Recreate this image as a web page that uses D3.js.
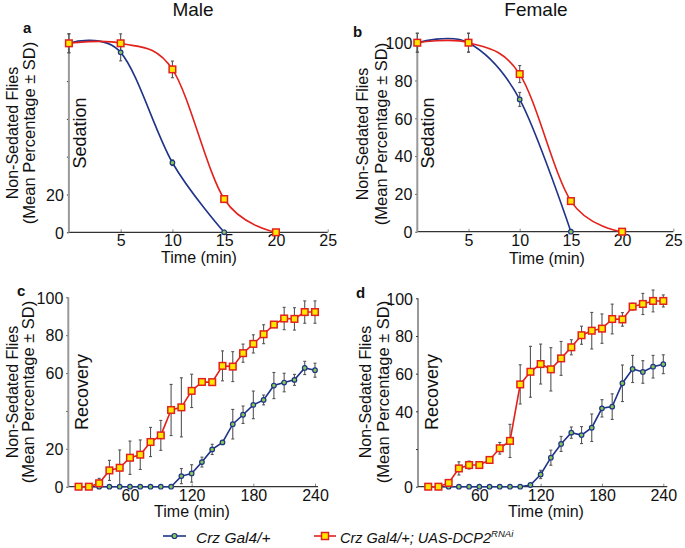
<!DOCTYPE html>
<html><head><meta charset="utf-8">
<script src="https://cdn.jsdelivr.net/npm/d3@7"></script>
<style>body{margin:0;background:#fff} text{font-family:"Liberation Sans",Arial,sans-serif;fill:#111}</style>
</head><body><svg id="chart" width="685" height="548"></svg>
<script>
// ---------- data ----------
const sedTimes = [0, 5, 10, 15, 20];
const maleSedCtrl = [100, 95.2, 36.8, 0];
const maleSedCtrlSD = [5, 4.5, 1.5, 0];
const maleSedRnai = [100, 100, 86.2, 17.6, 0];
const maleSedRnaiSD = [5, 5, 4.4, 0, 0];
const femaleSedCtrl = [100, 100, 70, 0];
const femaleSedCtrlSD = [5, 5, 3.7, 0];
const femaleSedRnai = [100, 100, 83.4, 16.2, 0];
const femaleSedRnaiSD = [5, 5, 4.5, 0, 0];

const recTimes = [10, 20, 30, 40, 50, 60, 70, 80, 90, 100, 110, 120, 130, 140, 150, 160, 170, 180, 190, 200, 210, 220, 230, 240];
const maleRecCtrl   = [0, 0, 0, 0, 0, 0, 0, 0, 0, 0, 5.6, 7, 13, 19.7, 23.4, 33, 38, 43.2, 45.8, 53.4, 55, 56.4, 62.7, 61.5];
const maleRecCtrlSD = [0, 0, 0, 0, 0, 0, 0, 0, 0, 0, 4, 4.6, 2.6, 2.7, 1, 7.8, 4.6, 7.3, 2.6, 6.9, 4.9, 2.9, 3.5, 3.7];
const maleRecRnai   = [0, 0, 1.8, 8.6, 10, 15.3, 16.9, 23.6, 27.1, 40.5, 41.9, 50.6, 55.3, 55.2, 63.8, 63.4, 70.5, 75.4, 80.5, 85.6, 88.8, 88.6, 92.2, 92.2];
const maleRecRnaiSD = [0, 0, 2.6, 5.3, 9.4, 8.8, 7.8, 7.7, 7.9, 13.5, 15.6, 8.8, 0.8, 0.8, 7.9, 7.9, 4.8, 4.8, 5, 1, 5.9, 5.9, 5.9, 5.9];
const femaleRecCtrl   = [0, 0, 0, 0, 0, 0, 0, 0, 0, 0, 0.9, 6.5, 15.4, 22.7, 28.7, 27.4, 31.3, 41.6, 42.5, 54.9, 62.5, 60.9, 63.7, 65];
const femaleRecCtrlSD = [0, 0, 0, 0, 0, 0, 0, 0, 0, 0, 0.5, 2.2, 4, 4, 3, 4.5, 7.3, 4.6, 6.8, 9.7, 7.2, 6, 6, 5];
const femaleRecRnai   = [0, 0, 2, 9.7, 11.5, 11.5, 14.2, 20.4, 24.3, 54.3, 61, 65.1, 62.3, 68.1, 74, 80.4, 82.8, 83.9, 89, 88.8, 95.6, 97, 98.6, 98.6];
const femaleRecRnaiSD = [0, 0, 1, 3.5, 2.1, 1.3, 1.3, 3.1, 8.8, 10.4, 13.5, 10.6, 11.5, 9, 4, 4.8, 9.7, 7.8, 7.9, 3.6, 1.8, 5.6, 5.8, 3.2];

const sedXTicks = [5, 10, 15, 20, 25];
const recXTicks = [60, 120, 180, 240];
const yTicks = [0, 20, 40, 60, 80, 100];
const aYLabels = [0, 20];
const bYLabels = [0, 20, 40, 60, 80, 100];
const cYLabels = [0, 20, 60, 80, 100];
const dYLabels = [0, 40, 60, 80, 100];

const seriesNames = ["Crz Gal4/+", "Crz Gal4/+; UAS-DCP2"];
const rnaiSup = "RNAi";

// ---------- style ----------
const BLUE = "#1f3388", RED = "#e3201b", YEL = "#ffe800", GRN = "#86c951";
const svg = d3.select("#chart");

const panels = [
  {letter: "a", lx: 23, ly: 33, title: "Male", tx: 193, x0: 68.9, x1: 327.7, yb: 232.3, yt: 43.3, xmax: 25,
   xticks: sedXTicks, ylab: aYLabels, yAxisCol: "#999", yAxisW: 2, smooth: true, side: "Sedation",
   times: sedTimes, ctrl: maleSedCtrl, ctrlSD: maleSedCtrlSD, rnai: maleSedRnai, rnaiSD: maleSedRnaiSD,
   ylx1: 12, ylx2: 29, ylc: 133, sideX: 80, sideY: 133, xLabY: 263, xLabX: 199, tickY: 246, xExt: 0},
  {letter: "b", lx: 353, ly: 37, title: "Female", tx: 536, x0: 417.3, x1: 673.3, yb: 231.7, yt: 42.7, xmax: 25,
   xticks: sedXTicks, ylab: bYLabels, yAxisCol: "#999", yAxisW: 2, smooth: true, side: "Sedation",
   times: sedTimes, ctrl: femaleSedCtrl, ctrlSD: femaleSedCtrlSD, rnai: femaleSedRnai, rnaiSD: femaleSedRnaiSD,
   ylx1: 362, ylx2: 381, ylc: 134, sideX: 428, sideY: 133, xLabY: 264, xLabX: 547, tickY: 246, xExt: 0},
  {letter: "c", lx: 17, ly: 296, title: null, x0: 68.3, x1: 315, yb: 486.7, yt: 297.3, xmax: 240,
   xticks: recXTicks, ylab: cYLabels, yAxisCol: "#999", yAxisW: 2, smooth: false, side: "Recovery",
   times: recTimes, ctrl: maleRecCtrl, ctrlSD: maleRecCtrlSD, rnai: maleRecRnai, rnaiSD: maleRecRnaiSD,
   ylx1: 12, ylx2: 28, ylc: 392, sideX: 82, sideY: 392, xLabY: 517, xLabX: 192, tickY: 500.5, xExt: 3},
  {letter: "d", lx: 356, ly: 298, title: null, x0: 418, x1: 663.3, yb: 486.7, yt: 298.3, xmax: 240,
   xticks: recXTicks, ylab: dYLabels, yAxisCol: "#333", yAxisW: 1, smooth: false, side: "Recovery",
   times: recTimes, ctrl: femaleRecCtrl, ctrlSD: femaleRecCtrlSD, rnai: femaleRecRnai, rnaiSD: femaleRecRnaiSD,
   ylx1: 365, ylx2: 383, ylc: 392, sideX: 432, sideY: 392, xLabY: 517, xLabX: 546, tickY: 500.5, xExt: 4}
];

panels.forEach(p => {
  const x = d3.scaleLinear().domain([0, p.xmax]).range([p.x0, p.x1]);
  const y = d3.scaleLinear().domain([0, 100]).range([p.yb, p.yt]);
  const g = svg.append("g");

  // x axis
  const xa = g.append("g").attr("transform", `translate(0,${p.yb})`)
    .call(d3.axisBottom(x).tickValues(p.xticks).tickSize(-3).tickPadding(6).tickFormat(d3.format("d")));
  xa.select(".domain").remove();
  xa.selectAll(".tick line").attr("stroke", "#888");
  xa.selectAll("text").attr("font-size", 16).attr("fill", "#111").attr("dy", null)
    .attr("y", p.tickY - p.yb);
  g.append("line").attr("x1", x(0)).attr("x2", x(p.xmax) + p.xExt).attr("y1", p.yb).attr("y2", p.yb)
    .attr("stroke", "#333").attr("stroke-width", 1.2);

  // y axis
  const ya = g.append("g").attr("transform", `translate(${x(0)},0)`)
    .call(d3.axisLeft(y).tickValues(yTicks).tickSize(2).tickPadding(3)
      .tickFormat(d => p.ylab.includes(d) ? d : ""));
  ya.select(".domain").remove();
  ya.selectAll(".tick line").attr("stroke", "#333");
  ya.selectAll("text").attr("font-size", 16).attr("fill", "#111").attr("dy", "0.36em");
  g.append("line").attr("x1", x(0)).attr("x2", x(0)).attr("y1", y(0)).attr("y2", y(100))
    .attr("stroke", p.yAxisCol).attr("stroke-width", p.yAxisW);

  // labels
  g.append("text").attr("x", p.lx).attr("y", p.ly).attr("font-size", 15).attr("font-weight", "bold").text(p.letter);
  if (p.title) g.append("text").attr("x", p.tx).attr("y", 16).attr("font-size", 19).attr("text-anchor", "middle").text(p.title);
  g.append("text").attr("transform", `translate(${p.ylx1},${p.ylc}) rotate(-90)`).attr("dy", "0.35em")
    .attr("text-anchor", "middle").attr("font-size", 16).text("Non-Sedated Flies");
  g.append("text").attr("transform", `translate(${p.ylx2},${p.ylc}) rotate(-90)`).attr("dy", "0.35em")
    .attr("text-anchor", "middle").attr("font-size", 16.5).text("(Mean Percentage \u00b1 SD)");
  g.append("text").attr("transform", `translate(${p.sideX},${p.sideY}) rotate(-90)`).attr("dy", "0.35em")
    .attr("text-anchor", "middle").attr("font-size", 18).text(p.side);
  g.append("text").attr("x", p.xLabX).attr("y", p.xLabY).attr("text-anchor", "middle").attr("font-size", 16).text("Time (min)");

  const ctrlPts = p.ctrl.map((v, i) => ({t: p.times[i], v, sd: p.ctrlSD[i]}));
  const rnaiPts = p.rnai.map((v, i) => ({t: p.times[i], v, sd: p.rnaiSD[i]}));

  // error bars
  [...rnaiPts, ...ctrlPts].filter(d => d.sd > 0).forEach(d => {
    const eg = g.append("g").attr("stroke", "#555").attr("stroke-width", 1.1);
    eg.append("line").attr("x1", x(d.t)).attr("x2", x(d.t)).attr("y1", y(d.v - d.sd)).attr("y2", y(d.v + d.sd));
    [d.v - d.sd, d.v + d.sd].forEach(e => eg.append("line").attr("x1", x(d.t) - 1.5).attr("x2", x(d.t) + 1.5)
      .attr("y1", y(e)).attr("y2", y(e)));
  });

  const line = d3.line().x(d => x(d.t)).y(d => y(d.v))
    .curve(p.smooth ? d3.curveCardinal.tension(0) : d3.curveLinear);
  g.append("path").datum(ctrlPts).attr("d", line).attr("fill", "none").attr("stroke", BLUE).attr("stroke-width", 1.6);
  g.append("path").datum(rnaiPts).attr("d", line).attr("fill", "none").attr("stroke", RED).attr("stroke-width", 1.6);

  g.selectAll(null).data(ctrlPts).enter().append("circle")
    .attr("cx", d => x(d.t)).attr("cy", d => y(d.v)).attr("r", 2.3)
    .attr("fill", GRN).attr("stroke", BLUE).attr("stroke-width", 1.2);
  g.selectAll(null).data(rnaiPts).enter().append("rect")
    .attr("x", d => x(d.t) - 3.3).attr("y", d => y(d.v) - 3.3).attr("width", 6.6).attr("height", 6.6)
    .attr("fill", YEL).attr("stroke", RED).attr("stroke-width", 1.5);
});

// legend
const lg = svg.append("g");
lg.append("line").attr("x1", 163).attr("x2", 186).attr("y1", 536).attr("y2", 536).attr("stroke", BLUE).attr("stroke-width", 1.6);
lg.append("circle").attr("cx", 174.5).attr("cy", 536).attr("r", 2.5).attr("fill", GRN).attr("stroke", BLUE).attr("stroke-width", 1.2);
lg.append("text").attr("x", 196).attr("y", 543).attr("font-size", 15.5).attr("font-style", "italic").text(seriesNames[0]);
lg.append("line").attr("x1", 314).attr("x2", 336).attr("y1", 536).attr("y2", 536).attr("stroke", RED).attr("stroke-width", 1.6);
lg.append("rect").attr("x", 321.5).attr("y", 532.5).attr("width", 7).attr("height", 7).attr("fill", YEL).attr("stroke", RED).attr("stroke-width", 1.5);
const lt = lg.append("text").attr("x", 340).attr("y", 543).attr("font-size", 14.5).attr("font-style", "italic");
lt.append("tspan").text(seriesNames[1]);
lt.append("tspan").attr("font-size", 9.5).attr("dy", -6).text(rnaiSup);
</script></body></html>
